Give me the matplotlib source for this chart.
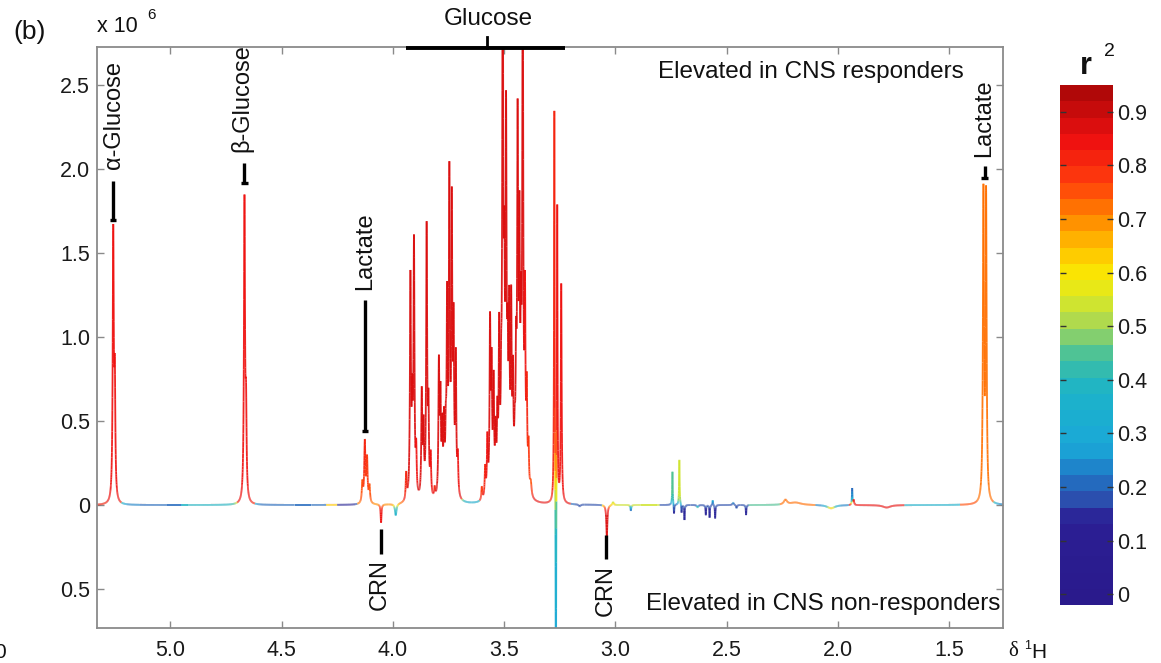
import numpy as np
import matplotlib
matplotlib.use('Agg')
import matplotlib.pyplot as plt
from matplotlib.collections import LineCollection
from matplotlib.colors import LinearSegmentedColormap, Normalize
from matplotlib.cm import ScalarMappable
from matplotlib.ticker import FuncFormatter

plt.rcParams['font.family'] = ['Liberation Sans', 'DejaVu Sans']

# ---- peak table: shift (ppm), height (x 1e6), half width (ppm), r^2 ----
PEAK_PPM = [
    5.257, 5.250,                                   # alpha-glucose
    4.667, 4.660,                                   # beta-glucose
    4.137, 4.126, 4.116, 4.105,                     # lactate CH
    4.053, 3.987,                                   # creatinine CH2, dip
    3.940, 3.921, 3.913, 3.905, 3.895, 3.870, 3.862, 3.848, 3.840, 3.830,
    3.812, 3.793, 3.786, 3.778, 3.770, 3.762, 3.756, 3.746, 3.735, 3.727,
    3.717, 3.708,
    3.600, 3.585, 3.575, 3.563, 3.556, 3.547, 3.538, 3.530, 3.522, 3.513,
    3.506, 3.499, 3.491, 3.484, 3.477, 3.468, 3.460, 3.452, 3.446, 3.439,
    3.431, 3.424, 3.416, 3.406, 3.398, 3.390, 3.380,
    3.274, 3.267, 3.261, 3.243,
    3.160, 3.038, 3.010, 2.930,
    2.743, 2.736, 2.712, 2.702, 2.689, 2.630, 2.593, 2.576, 2.562, 2.551,
    2.470, 2.455, 2.412, 2.235, 2.190, 2.030, 1.935, 1.928, 1.780,
    1.345, 1.333,                                   # lactate CH3
]
PEAK_HEIGHT = [
    1.58, 0.68,
    1.78, 0.50,
    0.12, 0.36, 0.26, 0.10,
    -0.11, -0.07,
    0.16, 1.30, 0.50, 1.50, 0.26, 0.62, 0.40, 1.60, 0.50, 0.24,
    0.06, 0.78, 0.56, 0.38, 0.42, 0.30, 1.10, 1.84, 1.66, 0.94,
    0.80, 0.22,
    0.08, 0.18, 0.34, 1.00, 0.72, 0.64, 0.34, 0.42, 0.92, 0.45,
    3.20, 1.10, 2.10, 0.68, 0.98, 1.05, 0.62, 0.24, 0.68, 2.08,
    1.42, 0.80, 3.10, 1.08, 0.56, 0.26, 0.08,
    2.36, -1.80, 1.80, 1.30,
    -0.012, -0.19, 0.02, -0.035,
    0.20, -0.06, 0.27, -0.05, -0.09, -0.015, -0.06, -0.075, 0.03, -0.08,
    0.015, -0.02, -0.06, 0.030, 0.015, -0.02, 0.10, 0.03, -0.015,
    1.82, 1.81,
]
PEAK_HW = [
    0.0028, 0.0028,
    0.0028, 0.0028,
    0.0030, 0.0030, 0.0030, 0.0030,
    0.0022, 0.0040,
    0.0026, 0.0026, 0.0026, 0.0026, 0.0026, 0.0026, 0.0026, 0.0026, 0.0026, 0.0026,
    0.0026, 0.0026, 0.0026, 0.0026, 0.0026, 0.0026, 0.0026, 0.0026, 0.0026, 0.0026,
    0.0026, 0.0026,
    0.0026, 0.0026, 0.0026, 0.0026, 0.0026, 0.0026, 0.0026, 0.0026, 0.0026, 0.0026,
    0.0026, 0.0026, 0.0026, 0.0026, 0.0026, 0.0026, 0.0026, 0.0026, 0.0026, 0.0026,
    0.0026, 0.0026, 0.0026, 0.0026, 0.0026, 0.0026, 0.0040,
    0.0016, 0.0012, 0.0016, 0.0022,
    0.0040, 0.0028, 0.0030, 0.0020,
    0.0015, 0.0015, 0.0015, 0.0015, 0.0015, 0.0030, 0.0015, 0.0015, 0.0015, 0.0015,
    0.0030, 0.0020, 0.0015, 0.0080, 0.0300, 0.0200, 0.0015, 0.0020, 0.0200,
    0.0028, 0.0028,
]
PEAK_R2 = [
    0.85, 0.85,
    0.85, 0.85,
    0.76, 0.80, 0.78, 0.76,
    0.85, 0.35,
    0.80, 0.87, 0.87, 0.87, 0.85, 0.87, 0.87, 0.87, 0.87, 0.85,
    0.80, 0.87, 0.87, 0.87, 0.87, 0.87, 0.87, 0.87, 0.87, 0.87,
    0.87, 0.85,
    0.78, 0.82, 0.85, 0.87, 0.87, 0.87, 0.87, 0.87, 0.87, 0.87,
    0.87, 0.87, 0.87, 0.87, 0.87, 0.87, 0.87, 0.87, 0.87, 0.87,
    0.87, 0.87, 0.87, 0.85, 0.82, 0.78, 0.75,
    0.82, 0.28, 0.85, 0.85,
    0.20, 0.88, 0.50, 0.15,
    0.45, 0.15, 0.55, 0.15, 0.15, 0.72, 0.15, 0.15, 0.30, 0.15,
    0.30, 0.20, 0.15, 0.72, 0.72, 0.85, 0.20, 0.85, 0.85,
    0.73, 0.73,
]

# r^2 of the flat baseline between peaks (band edges in ppm, high -> low)
BASE_EDGES = [5.33, 5.22, 4.95, 4.70, 4.62, 4.30, 4.25, 4.16, 3.95, 3.69, 3.61,
              3.20, 3.06, 3.00, 2.80, 2.40, 2.26, 2.10, 1.95, 1.70, 1.45, 1.30, 1.25]
BASE_R2 = [0.80, 0.22, 0.38, 0.80, 0.20, 0.62, 0.15, 0.70, 0.85, 0.30, 0.85,
           0.18, 0.62, 0.55, 0.18, 0.45, 0.72, 0.22, 0.85, 0.35, 0.75, 0.20]

# colour scale for r^2
CMAP_STOPS = [-0.02, 0.13, 0.17, 0.22, 0.27, 0.38, 0.44, 0.50, 0.56, 0.61,
              0.67, 0.72, 0.78, 0.86, 0.95]
CMAP_COLORS = ['#2a1a8c', '#2b1f94', '#2b52b0', '#1f7cc8', '#1aa8d8', '#1db4c8',
               '#3fbfa0', '#a4d658', '#dfea20', '#fde300', '#ffb000', '#ff7d00',
               '#ff3c0c', '#ee1010', '#b00808']
CBAR_TICKS = [0, 0.1, 0.2, 0.3, 0.4, 0.5, 0.6, 0.7, 0.8, 0.9]

X_TICKS = [5.0, 4.5, 4.0, 3.5, 3.0, 2.5, 2.0, 1.5]
Y_TICKS = [-0.5, 0, 0.5, 1.0, 1.5, 2.0, 2.5]
XLIM = (5.33, 1.257)
YLIM = (-0.732, 2.728)

W, H = 1161, 663


def build_spectrum():
    """Sum of Lorentzian lines from the peak table, plus r^2 per point."""
    ppm = np.union1d(np.arange(XLIM[1], XLIM[0], 0.0004), PEAK_PPM)[::-1]
    c = np.array(PEAK_PPM)[:, None]
    h = np.array(PEAK_HEIGHT)[:, None]
    hw = np.array(PEAK_HW)[:, None]
    lines = h * hw ** 2 / ((ppm[None, :] - c) ** 2 + hw ** 2)
    y = lines.sum(axis=0)

    edges = np.array(BASE_EDGES)
    idx = np.clip(np.searchsorted(-edges, -ppm) - 1, 0, len(BASE_R2) - 1)
    base_r2 = np.array(BASE_R2)[idx]

    # the strongest line at each point decides its colour
    wts = lines ** 2
    wb = 0.015 ** 2
    r2 = ((wts * np.array(PEAK_R2)[:, None]).sum(axis=0) + wb * base_r2) / (wts.sum(axis=0) + wb)
    return ppm, y, r2


def make_cmap():
    lo, hi = CMAP_STOPS[0], CMAP_STOPS[-1]
    pos = [(s - lo) / (hi - lo) for s in CMAP_STOPS]
    return LinearSegmentedColormap.from_list('r2', list(zip(pos, CMAP_COLORS)), N=32)


def px(x, y):
    """pixel position -> figure fraction"""
    return x / W, 1 - y / H


def marker(ax, x, y0, y1, cap=True):
    ax.plot([x, x], [y0 * 1e6, y1 * 1e6], color='black', lw=2.4,
            solid_capstyle='butt', clip_on=False, zorder=5)
    if cap:
        ax.plot([x - 0.014, x + 0.014], [y0 * 1e6, y0 * 1e6], color='black', lw=2.4,
                solid_capstyle='butt', clip_on=False, zorder=5)


def main():
    ppm, y, r2 = build_spectrum()
    cmap = make_cmap()
    norm = Normalize(CMAP_STOPS[0], CMAP_STOPS[-1])

    fig = plt.figure(figsize=(W / 100, H / 100), dpi=100)
    ax = fig.add_axes([97 / W, 35 / H, 906 / W, 581 / H])

    pts = np.column_stack([ppm, y * 1e6])
    segs = np.stack([pts[:-1], pts[1:]], axis=1)
    lc = LineCollection(segs, cmap=cmap, norm=norm, linewidths=1.3, alpha=0.92)
    lc.set_array(0.5 * (r2[:-1] + r2[1:]))
    ax.add_collection(lc)

    ax.set_xlim(*XLIM)
    ax.set_ylim(YLIM[0] * 1e6, YLIM[1] * 1e6)
    ax.set_xticks(X_TICKS)
    ax.set_xticklabels([f'{t:.1f}' for t in X_TICKS])
    ax.set_yticks([t * 1e6 for t in Y_TICKS])
    ax.yaxis.set_major_formatter(FuncFormatter(
        lambda v, _: '0' if abs(v) < 1 else f'{abs(v) / 1e6:.1f}'))
    ax.tick_params(direction='in', top=True, right=True, length=5, width=1,
                   color='#8a8a8a', labelsize=15.5, labelcolor='#1a1a1a')
    ax.tick_params(axis='x', pad=9)
    ax.tick_params(axis='y', pad=5)
    for sp in ax.spines.values():
        sp.set_color('#8a8a8a')
        sp.set_linewidth(1.3)

    # annotations
    tkw = dict(rotation=90, ha='center', fontsize=17, color='#111111', clip_on=False)
    marker(ax, 5.257, 1.70, 1.93)
    ax.text(5.252, 2.0e6, 'α-Glucose', va='bottom', **tkw)
    marker(ax, 4.667, 1.92, 2.04)
    ax.text(4.680, 2.10e6, 'β-Glucose', va='bottom', **tkw)
    marker(ax, 4.126, 0.44, 1.22)
    ax.text(4.126, 1.28e6, 'Lactate', va='bottom', **tkw)
    marker(ax, 1.340, 1.95, 2.02)
    ax.text(1.340, 2.07e6, 'Lactate', va='bottom', **tkw)
    marker(ax, 4.055, -0.14, -0.29, cap=False)
    ax.text(4.058, -0.32e6, 'CRN', va='top', **tkw)
    marker(ax, 3.040, -0.18, -0.32, cap=False)
    ax.text(3.043, -0.36e6, 'CRN', va='top', **tkw)

    # glucose bracket along the top edge
    ax.plot([3.941, 3.225], [2.72e6, 2.72e6], color='black', lw=2.8,
            solid_capstyle='butt', clip_on=False, zorder=5)
    ax.plot([3.577, 3.577], [2.72e6, 2.79e6], color='black', lw=2.0, clip_on=False, zorder=5)
    ax.text(3.572, 2.893e6, 'Glucose', ha='center', va='center', fontsize=17.5,
            color='#111111', clip_on=False)

    ax.text(1.433, 2.58e6, 'Elevated in CNS responders', ha='right', va='center',
            fontsize=17.5, color='#111111')
    ax.text(1.270, -0.587e6, 'Elevated in CNS non-responders', ha='right', va='center',
            fontsize=17.5, color='#111111')

    fig.text(*px(13, 32), '(b)', ha='left', va='center', fontsize=19, color='#111111')
    fig.text(*px(97, 26), 'x 10', ha='left', va='center', fontsize=15.5, color='#111111')
    fig.text(*px(147, 15), '6', ha='left', va='center', fontsize=11, color='#111111')
    fig.text(*px(1008, 652), 'δ', ha='left', va='center', fontsize=15,
             family='Liberation Serif', color='#111111')
    fig.text(*px(1024, 646), '1', ha='left', va='center', fontsize=9, color='#111111')
    fig.text(*px(1031, 652), 'H', ha='left', va='center', fontsize=15, color='#111111')
    fig.text(*px(-6, 652), '0', ha='left', va='center', fontsize=15, color='#111111')

    # colour bar
    cax = fig.add_axes([1060 / W, 58 / H, 53 / W, 520 / H])
    cb = fig.colorbar(ScalarMappable(norm=norm, cmap=cmap), cax=cax, ticks=CBAR_TICKS)
    cb.outline.set_visible(False)
    cb.ax.set_yticklabels(['0'] + [f'{t:.1f}' for t in CBAR_TICKS[1:]])
    cax.tick_params(direction='in', left=True, right=True, length=4, width=1,
                    color='#333333', labelsize=15.5, pad=3, labelcolor='#1a1a1a')
    fig.text(*px(1086, 66), 'r', ha='center', va='center', fontsize=22,
             fontweight='bold', color='#111111')
    fig.text(*px(1109, 51), '2', ha='center', va='center', fontsize=14, color='#111111')

    fig.savefig('out.png', dpi=100, facecolor='white')
    plt.close(fig)


if __name__ == '__main__':
    main()
